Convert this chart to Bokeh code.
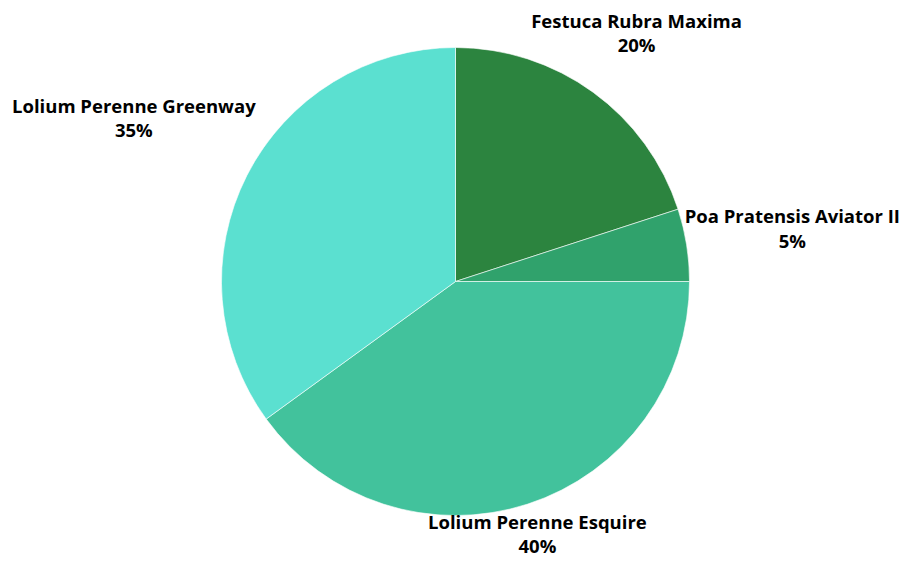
import math
from bokeh.plotting import figure
from bokeh.models import ColumnDataSource, Range1d
from bokeh.core.properties import value
from bokeh.embed import file_html
from bokeh.resources import INLINE

# ---- data ----
names = ["Festuca Rubra Maxima", "Poa Pratensis Aviator II",
         "Lolium Perenne Esquire", "Lolium Perenne Greenway"]
shares = [20, 5, 40, 35]
colors = ["#2c843f", "#30a26c", "#42c29c", "#5be0d0"]

# ---- layout ----
W, H = 902, 558
cx, cy = 455, 277
R = 234
label_dist = [308, 341, 265, 361]   # radial distance of each label block centre
line_h = 24.5

total = float(sum(shares))
starts, ends, lx, l1y, l2y, pct = [], [], [], [], [], []
cum = 0.0
for n, s, d in zip(names, shares, label_dist):
    a0 = math.pi / 2 - 2 * math.pi * cum / total
    cum += s
    a1 = math.pi / 2 - 2 * math.pi * cum / total
    starts.append(a0)
    ends.append(a1)
    mid = (a0 + a1) / 2
    x = cx + math.cos(mid) * d
    y = cy + math.sin(mid) * d
    lx.append(x)
    l1y.append(y + line_h / 2)
    l2y.append(y - line_h / 2)
    pct.append(f"{s}%")

src = ColumnDataSource(dict(start=starts, end=ends, color=colors,
                            x=[cx] * len(names), y=[cy] * len(names)))
lab = ColumnDataSource(dict(x=lx, y1=l1y, y2=l2y, name=names, pct=pct))

p = figure(width=W, height=H, output_backend="svg", toolbar_location=None,
           x_range=Range1d(0, W), y_range=Range1d(0, H),
           min_border=0, outline_line_color=None)
p.axis.visible = False
p.grid.visible = False
p.background_fill_color = "white"
p.border_fill_color = "white"

p.wedge(x="x", y="y", radius=R, start_angle="start", end_angle="end",
        direction="clock", fill_color="color", line_color="white",
        line_width=1, line_alpha=0.6, source=src)

for col, tcol in (("y1", "name"), ("y2", "pct")):
    p.text(x="x", y=col, text=tcol, source=lab,
           text_font=value("Open Sans"), text_font_style="bold",
           text_font_size="18.5px", text_color="black",
           text_align="center", text_baseline="middle")

open("out.html", "w").write(file_html(p, INLINE))
